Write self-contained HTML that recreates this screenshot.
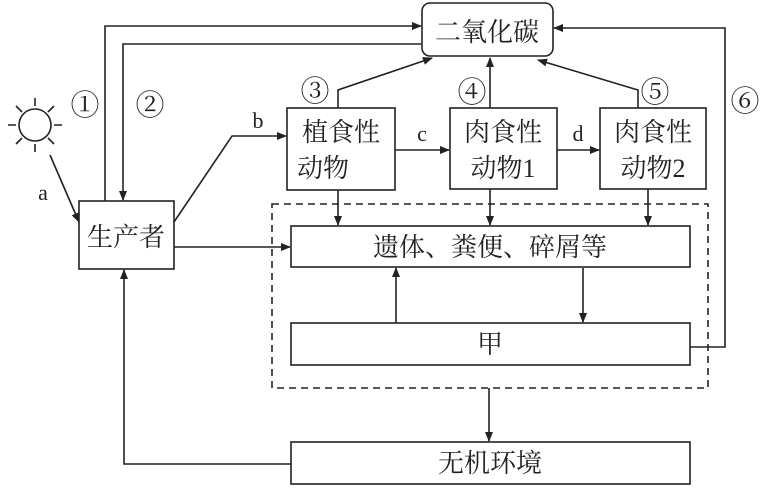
<!DOCTYPE html>
<html><head><meta charset="utf-8"><style>
body{margin:0;background:#fff;}
svg text{font-family:"Liberation Serif","Noto Serif CJK SC","Noto Sans CJK SC",serif;fill:#222;}
</style></head><body>
<svg width="765" height="487" viewBox="0 0 765 487" xmlns="http://www.w3.org/2000/svg">
<defs><marker id="ar" markerWidth="10" markerHeight="8" refX="9" refY="4" orient="auto" markerUnits="userSpaceOnUse"><path d="M0,0 L10,4 L0,8 Z" fill="#222"/></marker></defs>
<g stroke="#222" stroke-width="1.6" fill="none">
<rect x="422" y="3" width="131" height="53" rx="8"/>
<rect x="79" y="201" width="95" height="68"/>
<rect x="287" y="108" width="108" height="82"/>
<rect x="450" y="108" width="107" height="81"/>
<rect x="600" y="108" width="106" height="81"/>
<rect x="291" y="226" width="399" height="41"/>
<rect x="291" y="323" width="399" height="42"/>
<rect x="291" y="442" width="399" height="42"/>
<rect x="272" y="204" width="436" height="184" stroke-dasharray="7,5"/>
<circle cx="35" cy="125" r="16"/>
<path d="M35,98V106 M35,144V152 M8,125H16 M54,125H62 M16,106L22,112 M48,138L54,144 M16,144L22,138 M48,112L54,106"/>
<g marker-end="url(#ar)">
<path d="M50,155L79,222"/>
<path d="M105,201V26H421"/>
<path d="M421,44H123V200"/>
<path d="M174,222L232,136H286"/>
<path d="M338,108V90L432,58"/>
<path d="M490,108V58"/>
<path d="M638,108V90L538,60"/>
<path d="M690,347H725V28H554"/>
<path d="M395,150H449"/>
<path d="M557,150H599"/>
<path d="M174,247H290"/>
<path d="M338,190V225"/>
<path d="M490,189V225"/>
<path d="M648,189V225"/>
<path d="M396,323V268"/>
<path d="M583,268V322"/>
<path d="M489,388V441"/>
<path d="M291,464H124V270"/>
</g></g>
<g font-size="26">
<text x="487" y="41" text-anchor="middle">二氧化碳</text>
<text x="126" y="246" text-anchor="middle">生产者</text>
<text x="341" y="141" text-anchor="middle">植食性</text>
<text x="323" y="177" text-anchor="middle">动物</text>
<text x="503" y="141" text-anchor="middle">肉食性</text>
<text x="503" y="177" text-anchor="middle">动物1</text>
<text x="653" y="141" text-anchor="middle">肉食性</text>
<text x="653" y="177" text-anchor="middle">动物2</text>
<text x="490" y="256" text-anchor="middle">遗体、粪便、碎屑等</text>
<text x="490" y="353" text-anchor="middle">甲</text>
<text x="490" y="472" text-anchor="middle">无机环境</text>
</g>
<g font-size="29">
<text x="85" y="115" text-anchor="middle">①</text>
<text x="150" y="115" text-anchor="middle">②</text>
<text x="315" y="101" text-anchor="middle">③</text>
<text x="472" y="102" text-anchor="middle">④</text>
<text x="655" y="102" text-anchor="middle">⑤</text>
<text x="745" y="111" text-anchor="middle">⑥</text>
</g>
<g font-size="22">
<text x="43" y="200" text-anchor="middle">a</text>
<text x="258" y="128" text-anchor="middle">b</text>
<text x="422" y="141" text-anchor="middle">c</text>
<text x="578" y="141" text-anchor="middle">d</text>
</g>
</svg>
</body></html>
